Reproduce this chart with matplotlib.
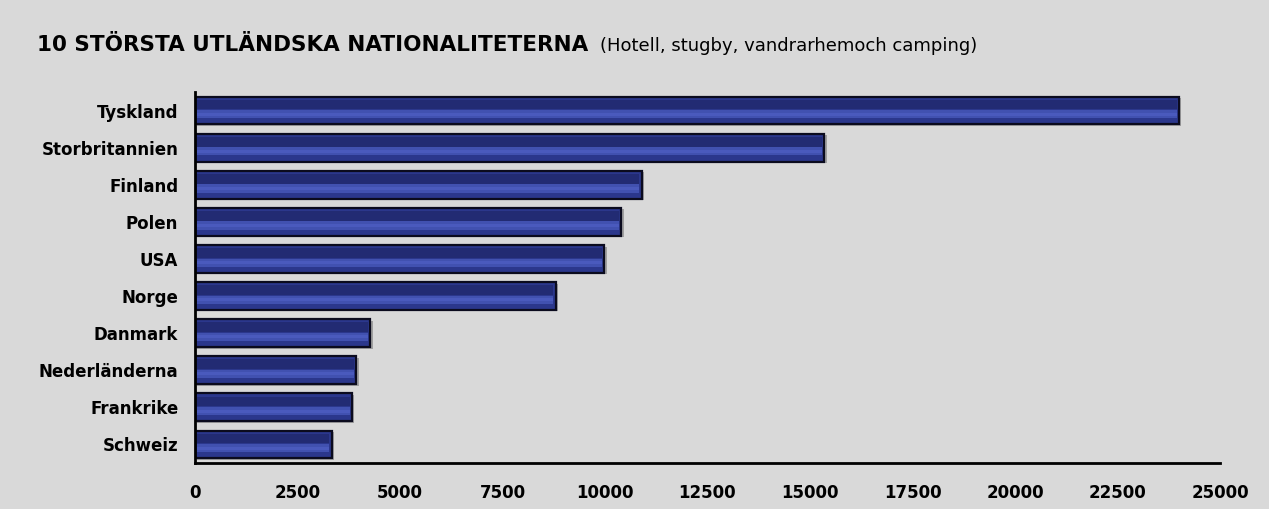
import matplotlib.pyplot as plt
import numpy as np

countries = ['Tyskland', 'Storbritannien', 'Finland', 'Polen', 'USA',
             'Norge', 'Danmark', 'Nederländerna', 'Frankrike', 'Schweiz']
guests = [24000, 15350, 10900, 10400, 9980, 8800, 4270, 3930, 3830, 3340]
xticks = [0, 2500, 5000, 7500, 10000, 12500, 15000, 17500, 20000, 22500, 25000]

bg = '#d9d9d9'
fig = plt.figure(figsize=(12.69, 5.09), dpi=100, facecolor=bg)
ax = fig.add_axes([195 / 1269, 46 / 509, 1025 / 1269, 371 / 509])
ax.set_facecolor(bg)

y = np.arange(len(countries))
h = 0.75
inner = np.array(guests) - 120
# soft shadow, base bar, dark top band, light lower band
ax.barh(y + 0.04, guests, height=h, left=60, color='#a0a0a0', zorder=1)
ax.barh(y, guests, height=h, color='#2b378c', edgecolor='#0b0b1e', lw=1.6, zorder=2)
ax.barh(y - 0.16, inner, left=60, height=0.26, color='#222b73', lw=0, zorder=3)
ax.barh(y + 0.1, inner, left=60, height=0.22, color='#4151b0', lw=0, zorder=3)
ax.barh(y + 0.1, inner, left=60, height=0.08, color='#4a5abd', lw=0, zorder=3)

ax.set_ylim(len(countries) - 0.5, -0.5)
ax.set_xlim(0, 25000)
ax.set_yticks(y)
ax.set_yticklabels(countries, fontsize=12, fontweight='bold')
ax.set_xticks(xticks)
ax.set_xticklabels([str(t) for t in xticks], fontsize=12, fontweight='bold')
ax.tick_params(length=0, pad=15)
ax.tick_params(axis='y', pad=12)
for s in ['top', 'right']:
    ax.spines[s].set_visible(False)
ax.spines['left'].set_linewidth(2)
ax.spines['bottom'].set_linewidth(2)

fig.text(37 / 1269, 1 - 45 / 509, '10 STÖRSTA UTLÄNDSKA NATIONALITETERNA',
         fontsize=15.5, fontweight='bold', va='center', ha='left')
fig.text(600 / 1269, 1 - 46 / 509, '(Hotell, stugby, vandrarhemoch camping)',
         fontsize=13, va='center', ha='left')

fig.savefig('out.png', dpi=100, facecolor=bg)
